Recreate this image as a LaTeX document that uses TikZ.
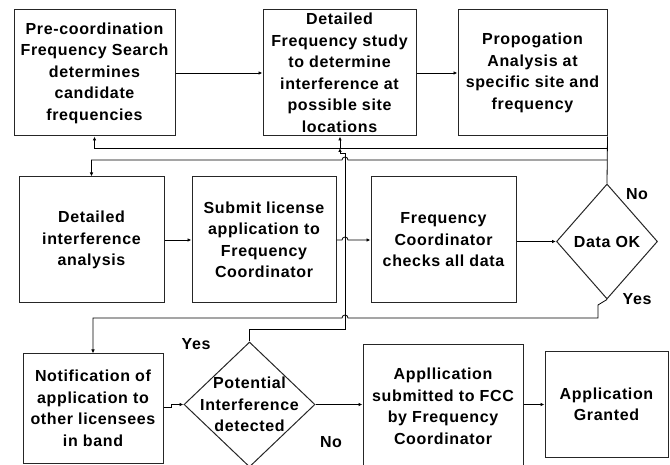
\documentclass[tikz,border=0pt]{standalone}
\usepackage{fontspec}
\setmainfont{Liberation Sans}[LetterSpace=4]
\usetikzlibrary{shapes.geometric,arrows.meta}
\begin{document}
\begin{tikzpicture}[x=1pt,y=-1pt,
  box/.style={draw=black!85,line width=1pt,rectangle,inner sep=0pt,align=center,
    font={\fontsize{16}{21.5}\selectfont\bfseries}},
  dia/.style={draw=black!85,line width=1pt,diamond,inner sep=0pt},
  txt/.style={align=center,inner sep=0pt,font={\fontsize{16}{21.5}\selectfont\bfseries}},
  lbl/.style={inner sep=0pt,font={\fontsize{16}{18}\selectfont\bfseries}},
  con/.style={draw=black,line width=0.8pt},
  arr/.style={con,-{Latex[length=4pt,width=3.5pt]}}]
\useasboundingbox (0,0) rectangle (670,465);
% row 1
\node[box,minimum width=161,minimum height=126] (b1) at (94.5,73)
  {Pre-coordination\\Frequency Search\\determines\\candidate\\frequencies};
\node[box,minimum width=153,minimum height=126] (b2) at (339.5,73)
  {Detailed\\Frequency study\\to determine\\interference at\\possible site\\locations};
\node[box,minimum width=149,minimum height=126] (b3) at (532.5,73)
  {Propogation\\Analysis at\\specific site and\\frequency};
% row 2
\node[box,minimum width=145,minimum height=126] (b4) at (91.5,240)
  {Detailed\\interference\\analysis};
\node[box,minimum width=144,minimum height=126] (b5) at (264,240)
  {Submit license\\application to\\Frequency\\Coordinator};
\node[box,minimum width=145,minimum height=126] (b6) at (443.5,240)
  {Frequency\\Coordinator\\checks all data};
\node[dia,minimum width=101,minimum height=115] (d1) at (607,241.5) {};
\node[txt] (d1t) at (d1) {Data OK};
% row 3
\node[box,minimum width=140,minimum height=109] (b7) at (93,408.5)
  {Notification of\\application to\\other licensees\\in band};
\node[dia,minimum width=131,minimum height=125] (d2) at (249.5,404.5) {};
\node[txt] (d2t) at (d2) {Potential\\Interference\\detected};
\node[box,minimum width=160,minimum height=123] (b8) at (443,406.5)
  {Appllication\\submitted to FCC\\by Frequency\\Coordinator};
\node[box,minimum width=123,minimum height=105] (b9) at (606.5,404.5)
  {Application\\Granted};
% labels
\node[lbl] (no1) at (637,194) {No};
\node[lbl] (yes1) at (637,299) {Yes};
\node[lbl] (yes2) at (196,344) {Yes};
\node[lbl] (no2) at (331,442) {No};
% junctions
\coordinate (j1) at (607,148);
\coordinate (j2) at (607,160);
% connectors
\draw[arr] (b1) -- (b2);
\draw[arr] (b2) -- (b3);
\draw[con] (b3.south east) -- (d1.north);
\draw[arr] (j1) -| (b1.south);
\draw[arr] (340,148) -- (b2.south -| 340,0);
\draw[arr] (j2) -- (348,160) arc[start angle=0,end angle=-180,radius=3] -| (b4.north);
\draw[arr] (b4) -- (b5);
\draw[arr] (b5.east) -- (342,240) arc[start angle=180,end angle=360,radius=3] -- (b6.west);
\draw[arr] (b6.east |- d1.west) -- (d1.west);
\draw[arr] (d1.south) -- (598,305) -- (598,318) -- (348,318)
  arc[start angle=0,end angle=-180,radius=3] -| (b7.north);
\draw[arr] (b7.east |- 0,407) -- (171,407) -- (171,404.5) -- (d2.west);
\draw[arr] (d2.north) -- (249.5,329) -| (345,153) -- (340,153) -- (340,148);
\draw[arr] (d2.east) -- (d2.east -| b8.west);
\draw[arr] (b8.east |- b9.west) -- (b9.west);
\end{tikzpicture}
\end{document}
